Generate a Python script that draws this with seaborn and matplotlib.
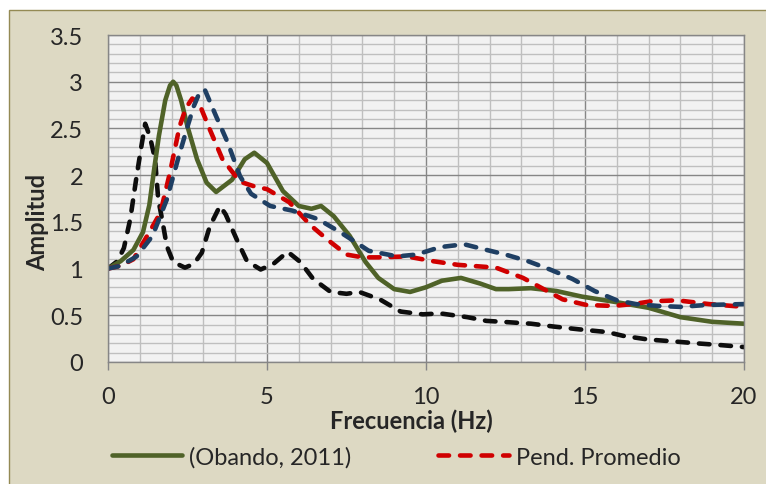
import matplotlib
matplotlib.use("Agg")
import matplotlib.pyplot as plt
import seaborn as sns
from matplotlib.patches import Rectangle

# Values
obando_f = [0, 0.4, 0.8, 1.1, 1.3, 1.45, 1.6, 1.8, 1.95, 2.05, 2.15, 2.3, 2.5, 2.8,
            3.1, 3.4, 3.9, 4.3, 4.6, 5.0, 5.5, 6.0, 6.4, 6.7, 7.1, 7.6, 8.1,
            8.5, 9.0, 9.5, 10.0, 10.5, 11.1, 11.7, 12.2, 12.6, 13.3, 14.1, 14.9,
            16.0, 17.0, 18.0, 19.0, 20.0]
obando_a = [1.0, 1.08, 1.2, 1.39, 1.68, 2.06, 2.42, 2.8, 2.96, 3.0, 2.96, 2.8,
            2.52, 2.17, 1.92, 1.82, 1.95, 2.17, 2.24, 2.13, 1.83, 1.67, 1.64,
            1.67, 1.56, 1.35, 1.07, 0.9, 0.78, 0.75, 0.8, 0.87, 0.9, 0.84, 0.78,
            0.78, 0.79, 0.76, 0.7, 0.64, 0.58, 0.48, 0.43, 0.41]

prom_f = [0, 0.4, 0.8, 1.3, 1.65, 1.95, 2.25, 2.45, 2.65, 2.85, 3.2, 3.6, 4.15,
          4.6, 5.0, 5.7, 6.35, 6.9, 7.5, 8.0, 8.5, 9.4, 10.2, 11.0, 12.2, 13.05,
          13.7, 14.3, 15.05, 15.9, 16.5, 17.1, 17.9, 18.9, 20.0]
prom_a = [1.0, 1.03, 1.1, 1.39, 1.6, 2.03, 2.52, 2.72, 2.82, 2.78, 2.49, 2.17,
          1.93, 1.88, 1.85, 1.71, 1.47, 1.31, 1.15, 1.12, 1.12, 1.13, 1.08, 1.04,
          1.01, 0.9, 0.78, 0.67, 0.61, 0.6, 0.62, 0.65, 0.66, 0.62, 0.59]

blue_f = [0, 0.4, 0.9, 1.4, 1.85, 2.2, 2.5, 2.7, 2.9, 3.05, 3.4, 3.75, 4.15, 4.5,
          5.1, 5.8, 6.6, 7.3, 7.8, 8.2, 9.1, 9.7, 10.45, 11.2, 11.9, 12.5, 13.2,
          13.9, 14.6, 15.3, 16.0, 16.6, 17.3, 18.0, 18.8, 20.0]
blue_a = [1.0, 1.03, 1.13, 1.35, 1.74, 2.17, 2.52, 2.74, 2.9, 2.91, 2.63, 2.36,
          1.99, 1.8, 1.67, 1.62, 1.53, 1.39, 1.28, 1.19, 1.13, 1.15, 1.23, 1.26,
          1.2, 1.15, 1.08, 0.99, 0.89, 0.76, 0.66, 0.62, 0.6, 0.59, 0.61, 0.62]

black_f = [0, 0.3, 0.5, 0.7, 0.9, 1.05, 1.17, 1.32, 1.48, 1.58, 1.7, 1.85, 2.05,
           2.42, 2.7, 2.95, 3.2, 3.52, 3.7, 4.05, 4.37, 4.8, 5.2, 5.65, 6.05,
           6.45, 7.0, 7.5, 7.9, 8.55, 9.2, 9.9, 10.45, 11.3, 11.9, 12.4, 13.3,
           14.0, 14.8, 15.7, 16.2, 17.0, 17.8, 18.5, 19.3, 20.0]
black_a = [1.0, 1.08, 1.22, 1.53, 1.99, 2.31, 2.55, 2.41, 2.17, 1.74, 1.53, 1.24,
           1.07, 1.01, 1.05, 1.17, 1.45, 1.67, 1.58, 1.31, 1.08, 0.99, 1.05,
           1.18, 1.07, 0.89, 0.75, 0.73, 0.75, 0.67, 0.54, 0.51, 0.52, 0.48,
           0.44, 0.43, 0.41, 0.38, 0.35, 0.32, 0.28, 0.24, 0.22, 0.2, 0.18, 0.16]

legend_labels = ["(Obando, 2011)", "Pend. Promedio"]
x_ticks = [0, 5, 10, 15, 20]
y_ticks = [0, 0.5, 1, 1.5, 2, 2.5, 3, 3.5]

sns.set_style("white")
plt.rcParams["font.family"] = ["Lato", "DejaVu Sans"]
fs = 17

fig = plt.figure(figsize=(7.66, 4.85), dpi=100)
fig.patch.set_facecolor("white")
# beige chart frame
fig.patches.append(Rectangle((9 / 766, -0.01), 1.0, (485 - 11) / 485 + 0.01,
                             transform=fig.transFigure, facecolor="#DDD9C3",
                             edgecolor="#948A54", lw=1.0, zorder=-10))

ax = fig.add_axes([108 / 766, (485 - 363) / 485, 636 / 766, 327 / 485])
ax.set_facecolor("#F2F2F2")

lw = 3.3
dash = (2.3, 2.4)

sns.lineplot(x=black_f, y=black_a, ax=ax, color="#0D0D0D", linewidth=lw,
             sort=False, estimator=None)
black_line = ax.lines[-1]
sns.lineplot(x=obando_f, y=obando_a, ax=ax, color="#4F6228", linewidth=lw,
             sort=False, estimator=None)
green_line = ax.lines[-1]
sns.lineplot(x=prom_f, y=prom_a, ax=ax, color="#D00000", linewidth=lw,
             sort=False, estimator=None)
red_line = ax.lines[-1]
sns.lineplot(x=blue_f, y=blue_a, ax=ax, color="#1F3F63", linewidth=lw,
             sort=False, estimator=None)
blue_line = ax.lines[-1]

for ln in [black_line, red_line, blue_line]:
    ln.set_dashes(dash)
    ln.set_dash_capstyle("round")
for ln in ax.lines:
    ln.set_solid_joinstyle("round")
    ln.set_dash_joinstyle("round")
green_line.set_solid_capstyle("round")

ax.set_xlim(0, 20)
ax.set_ylim(0, 3.5)
ax.set_xticks(x_ticks)
ax.set_yticks(y_ticks)
ax.set_yticklabels([f"{v:g}" for v in y_ticks])
ax.set_xticks(range(0, 21), minor=True)
ax.set_yticks([i / 10 for i in range(36)], minor=True)
ax.grid(which="minor", color="#BFBFBF", lw=1.0)
ax.grid(which="major", color="#868686", lw=1.0)
ax.set_axisbelow(True)
ax.tick_params(axis="x", which="major", length=6, width=1, color="#868686",
               direction="out", pad=11, labelsize=fs)
ax.tick_params(axis="x", which="minor", length=0)
ax.tick_params(axis="y", which="both", length=0, pad=18, labelsize=fs)
ax.xaxis.set_ticks_position("bottom")
for side in ["left", "bottom", "top", "right"]:
    ax.spines[side].set_color("#868686")
    ax.spines[side].set_linewidth(1.0)

ax.set_xlabel("")
ax.set_ylabel("")
fig.text(411 / 766, 1 - 421 / 485, "Frecuencia (Hz)", ha="center", va="center",
         fontsize=fs, fontweight="bold")
fig.text(38 / 766, 1 - 222 / 485, "Amplitud", ha="center", va="center",
         rotation=90, fontsize=fs, fontweight="bold")

fig.legend(handles=[green_line, red_line], labels=legend_labels, ncol=2,
           loc="center", bbox_to_anchor=(396 / 766, 1 - 458 / 485),
           frameon=False, fontsize=fs, handlelength=2.97, handletextpad=0.3,
           columnspacing=3.7, borderpad=0, borderaxespad=0)

fig.savefig("out.png", dpi=100, facecolor=fig.get_facecolor())
